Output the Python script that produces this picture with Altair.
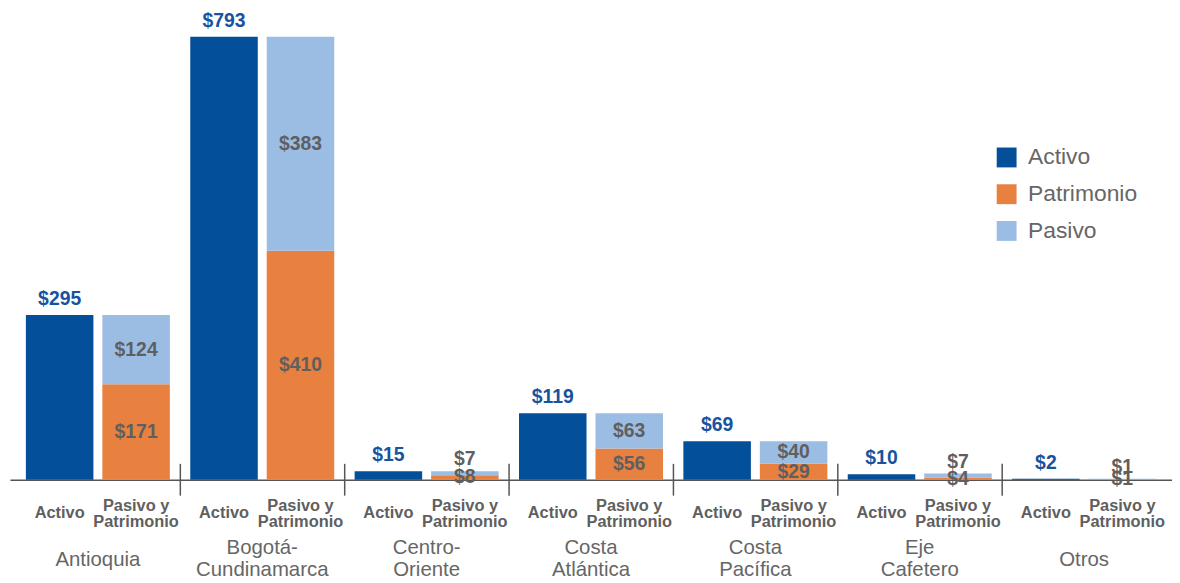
import altair as alt
import pandas as pd

regions = ["Antioquia", "Bogotá-Cundinamarca", "Centro-Oriente", "Costa Atlántica",
           "Costa Pacífica", "Eje Cafetero", "Otros"]
region_labels = ["Antioquia", "Bogotá-\nCundinamarca", "Centro-\nOriente", "Costa\nAtlántica",
                 "Costa\nPacífica", "Eje\nCafetero", "Otros"]
activo = [295, 793, 15, 119, 69, 10, 2]
pasivo = [124, 383, 7, 63, 40, 7, 1]
patrimonio = [171, 410, 8, 56, 29, 4, 1]
bars = ["Activo", "Pasivo y Patrimonio"]
bar_labels = ["Activo", "Pasivo y\nPatrimonio"]
series = ["Activo", "Patrimonio", "Pasivo"]
colors = ["#034f99", "#e8803f", "#9bbde3"]

FONT = "Liberation Sans, Arial, sans-serif"
GRAY = "#5f5f5f"
BLUE = "#17539e"

rows = []
for i, r in enumerate(regions):
    rows.append({"region": r, "bar": bars[0], "series": "Activo", "value": activo[i], "order": 0})
    rows.append({"region": r, "bar": bars[1], "series": "Patrimonio", "value": patrimonio[i], "order": 1})
    rows.append({"region": r, "bar": bars[1], "series": "Pasivo", "value": pasivo[i], "order": 2})
df = pd.DataFrame(rows)

sub_df = pd.DataFrame([{"region": r, "bar": b, "text": t}
                       for r in regions for b, t in zip(bars, bar_labels)])
reg_df = pd.DataFrame({"region": regions, "text": region_labels})
sep_df = pd.DataFrame({"region": regions[1:]})

x_scale = alt.Scale(paddingInner=0.124, paddingOuter=0.0967)
x_axis = alt.Axis(labels=False, ticks=False, title=None, grid=False,
                  domainColor="#555555", domainWidth=1.5)
x_enc = alt.X("region:N", sort=regions, scale=x_scale, axis=x_axis)
xo_enc = alt.XOffset("bar:N", sort=bars, scale=alt.Scale(paddingInner=0.117, paddingOuter=0))
y_scale = alt.Scale(domain=[0, 793], nice=False, zero=True)

base = alt.Chart(df).transform_stack(
    stack="value", as_=["y0", "y1"], groupby=["region", "bar"],
    sort=[alt.SortField("order", order="ascending")]
).transform_calculate(
    mid="(datum.y0 + datum.y1) / 2",
    label="'$' + datum.value"
)

bar_layer = base.mark_bar().encode(
    x=x_enc, xOffset=xo_enc,
    y=alt.Y("y0:Q", scale=y_scale, axis=None),
    y2="y1:Q",
    color=alt.Color("series:N", scale=alt.Scale(domain=series, range=colors),
                    legend=alt.Legend(orient="none", legendX=992, legendY=110, title=None,
                                      symbolType="square", symbolSize=400, symbolStrokeWidth=0,
                                      symbolOpacity=1, labelFontSize=23, labelFont=FONT,
                                      labelColor="#666666", labelOffset=10, rowPadding=13,
                                      padding=0)),
)

activo_lbl = base.transform_filter("datum.series == 'Activo'").mark_text(
    font=FONT, fontSize=19.5, fontWeight="bold", color=BLUE, baseline="alphabetic", dy=-10
).encode(x=x_enc, xOffset=xo_enc, y=alt.Y("y1:Q", scale=y_scale, axis=None), text="label:N")

mid_lbl = base.transform_filter(
    "datum.series == 'Patrimonio' || (datum.series == 'Pasivo' && datum.value >= 20)"
).mark_text(
    font=FONT, fontSize=19.5, fontWeight="bold", color=GRAY, baseline="middle"
).encode(x=x_enc, xOffset=xo_enc, y=alt.Y("mid:Q", scale=y_scale, axis=None), text="label:N")

top_lbl = base.transform_filter(
    "datum.series == 'Pasivo' && datum.value < 20"
).mark_text(
    font=FONT, fontSize=19.5, fontWeight="bold", color=GRAY, baseline="alphabetic", dy=-6
).encode(x=x_enc, xOffset=xo_enc, y=alt.Y("y1:Q", scale=y_scale, axis=None), text="label:N")

multi = "indexof(datum.text, '\\n') >= 0"
single = "indexof(datum.text, '\\n') < 0"

sub_single = alt.Chart(sub_df).transform_filter(single).mark_text(
    font=FONT, fontSize=16.5, fontWeight="bold", color=GRAY, baseline="middle",
    lineBreak="\n", lineHeight=17
).encode(x=x_enc, xOffset=xo_enc, y=alt.value(480), text="text:N")

sub_multi = alt.Chart(sub_df).transform_filter(multi).mark_text(
    font=FONT, fontSize=16.5, fontWeight="bold", color=GRAY, baseline="middle",
    lineBreak="\n", lineHeight=17
).encode(x=x_enc, xOffset=xo_enc, y=alt.value(472), text="text:N")

reg_single = alt.Chart(reg_df).transform_filter(single).mark_text(
    font=FONT, fontSize=20.5, color="#666666", baseline="middle",
    lineBreak="\n", lineHeight=22
).encode(x=x_enc, y=alt.value(527), text="text:N")

reg_multi = alt.Chart(reg_df).transform_filter(multi).mark_text(
    font=FONT, fontSize=20.5, color="#666666", baseline="middle",
    lineBreak="\n", lineHeight=22
).encode(x=x_enc, y=alt.value(515), text="text:N")

sep = alt.Chart(sep_df).mark_rule(color="#555555", strokeWidth=1.5, xOffset=-10).encode(
    x=alt.X("region:N", sort=regions, bandPosition=0, scale=x_scale, axis=x_axis),
    y=alt.value(430), y2=alt.value(462)
)

chart = alt.layer(bar_layer, activo_lbl, mid_lbl, top_lbl, sub_single, sub_multi,
                  reg_single, reg_multi, sep).properties(
    width=1170, height=446,
    background="white",
    autosize=alt.AutoSizeParams(type="none"),
    padding={"left": 2, "top": 27, "right": 0, "bottom": 106},
).configure_view(strokeWidth=0, stroke=None)

chart.save("out.html", embed_options={"renderer": "svg", "actions": False})
